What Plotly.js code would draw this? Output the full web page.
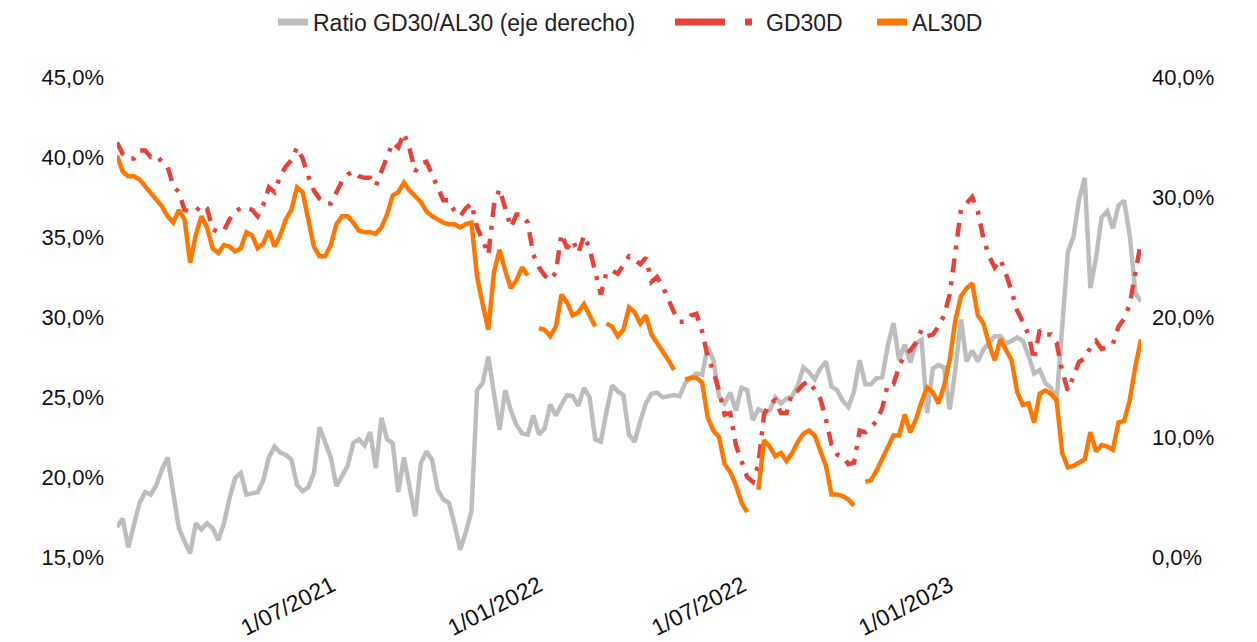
<!DOCTYPE html>
<html>
<head>
<meta charset="utf-8">
<script src="https://cdn.plot.ly/plotly-3.0.1.min.js"></script>
<style>
  html, body { margin: 0; padding: 0; background: #ffffff; }
  #chart { width: 1257px; height: 642px; }
</style>
</head>
<body>
<div id="chart"></div>
<script>
// Sampling grid: one reading every 5 calendar days from the first date shown
const startDate = '2020-12-22';
const stepDays = 5;

// AL30D yield (%), left axis
const al30d = [
  40.1, 39.1, 38.8, 38.8, 38.6, 38.2, 37.8, 37.4, 36.9, 36.3,
  35.9, 36.7, 36.1, 33.4, 35.1, 36.3, 35.6, 34.3, 34.0, 34.5,
  34.4, 34.1, 34.3, 35.3, 35.1, 34.3, 34.6, 35.4, 34.4, 35.1,
  36.1, 36.7, 38.1, 37.8, 36.2, 34.4, 33.8, 33.8, 34.5, 35.8,
  36.3, 36.3, 35.9, 35.4, 35.3, 35.3, 35.2, 35.6, 36.4, 37.6,
  37.8, 38.4, 37.9, 37.5, 37.2, 36.6, 36.3, 36.1, 35.9, 35.8,
  35.8, 35.6, 35.8, 35.9, 32.5, 30.8, 29.2, 32.8, 34.2, 32.9,
  31.8, 32.3, 33.1, 32.6, null, 29.3, 29.2, 28.8, 29.4, 31.4,
  30.9, 30.1, 30.3, 30.8, 30.1, 29.4, null, 29.6, 29.4, 28.8,
  29.2, 30.6, 30.3, 29.6, 30.1, 28.9, 28.4, 27.8, 27.3, 26.7,
  null, 26.1, 26.2, 26.2, 25.9, 23.7, 22.9, 22.5, 20.8, 20.3,
  19.5, 18.4, 17.8, null, 19.2, 22.3, 21.9, 21.3, 21.5, 21.0,
  21.5, 22.2, 22.7, 22.9, 22.6, 21.6, 20.7, 18.9, 18.9, 18.8,
  18.6, 18.2, null, 19.7, 19.8, 20.4, 21.1, 21.9, 22.6, 22.6,
  23.9, 22.8, 23.6, 24.7, 25.6, 25.3, 24.6, 25.7, 27.3, 29.8,
  31.3, 31.8, 32.1, 30.1, 29.6, 28.3, 27.3, 28.6, 27.9, 27.3,
  25.3, 24.5, 24.6, 23.4, 25.2, 25.4, 25.2, 24.8, 21.5, 20.6,
  20.7, 20.9, 21.1, 22.8, 21.6, 22.0, 21.9, 21.7, 23.4, 23.5,
  24.8, 26.9, 28.6
];

// GD30D yield (%), left axis
const gd30d = [
  40.9, 40.2, 39.9, 39.9, 40.4, 40.4, 40.0, 40.1, 39.7, 39.4,
  38.2, 37.8, 36.7, 36.6, 36.6, 37.0, 36.8, 35.5, 35.3, 35.4,
  36.1, 36.6, 36.8, 36.8, 36.7, 36.3, 37.0, 38.1, 37.8, 38.8,
  39.4, 39.8, 40.6, 39.9, 38.8, 37.9, 37.4, 37.1, 37.1, 37.8,
  38.5, 38.9, 39.1, 38.8, 38.7, 38.7, 38.2, 39.1, 40.0, 40.9,
  40.6, 41.5, 40.5, 39.1, 39.6, 39.7, 38.9, 38.1, 37.3, 37.3,
  36.6, 36.3, 36.8, 37.1, 35.6, 34.8, 33.9, 37.0, 38.0, 36.8,
  35.6, 36.4, 36.4, 35.9, 33.9, 33.1, 32.6, 32.3, 32.8, 35.2,
  34.3, 34.8, 34.0, 35.1, 34.3, 32.8, 31.4, 32.8, 32.9, 32.7,
  33.2, 33.8, 33.6, 33.3, 33.7, 32.2, 32.5, 31.9, 31.1, 30.3,
  29.7, 29.7, 30.1, 30.2, 29.1, 27.5, 26.6, 25.4, 23.9, 24.0,
  22.0, 20.9, 20.0, 19.7, 20.8, 23.9, 24.6, 24.8, 24.0, 24.0,
  25.3, 25.4, 25.8, 26.0, 25.4, 24.9, 23.6, 22.0, 21.4, 21.3,
  20.8, 20.9, 22.9, 22.8, 23.1, 23.5, 24.3, 25.8, 25.8, 26.9,
  27.7, 27.9, 28.4, 29.2, 28.8, 28.9, 29.4, 30.1, 31.4, 34.2,
  36.7, 37.1, 37.5, 36.6, 34.9, 33.8, 33.1, 33.6, 32.7, 31.6,
  30.4, 29.7, 28.9, 27.3, 29.2, 28.9, 28.9, 28.4, 26.6, 25.4,
  26.3, 27.2, 27.4, 28.1, 28.5, 28.0, 28.1, 28.3, 29.4, 29.9,
  30.8, 32.9, 34.7
];

// Ratio GD30/AL30 (%), right axis
const ratio = [
  2.5, 3.2, 0.8, 2.8, 4.5, 5.4, 5.2, 6.0, 7.3, 8.3,
  5.4, 2.4, 1.3, 0.3, 2.8, 2.3, 2.8, 2.4, 1.4, 2.8,
  4.9, 6.6, 7.0, 5.2, 5.3, 5.4, 6.4, 8.3, 9.2, 8.7,
  8.5, 8.1, 6.0, 5.5, 5.8, 7.0, 10.8, 9.5, 8.3, 5.9,
  6.7, 7.6, 9.5, 9.8, 9.3, 10.4, 7.4, 11.6, 9.8, 9.5,
  5.4, 8.3, 5.8, 3.4, 7.8, 8.8, 8.1, 5.6, 4.8, 4.5,
  2.7, 0.6, 2.1, 3.8, 13.9, 14.5, 16.7, 13.5, 10.6, 13.9,
  12.2, 11.0, 10.3, 10.2, 11.8, 10.2, 10.7, 12.7, 11.8, 12.7,
  13.5, 13.4, 12.6, 14.1, 13.3, 9.8, 9.6, 12.1, 14.3, 13.8,
  13.5, 10.2, 9.6, 11.3, 12.8, 13.6, 13.7, 13.3, 13.4, 13.5,
  13.4, 14.5, 14.9, 15.3, 15.2, 17.5, 16.4, 13.4, 12.8, 13.7,
  12.2, 14.1, 13.9, 11.4, 12.3, 12.1, 12.2, 13.3, 12.8, 13.2,
  13.4, 14.3, 15.8, 15.4, 14.8, 15.7, 16.3, 14.2, 13.9, 13.0,
  12.5, 13.8, 16.4, 14.4, 14.4, 14.9, 15.0, 17.6, 19.5, 16.4,
  17.7, 16.2, 17.8, 18.1, 12.0, 15.7, 16.0, 15.8, 12.3, 15.6,
  19.8, 16.3, 17.2, 16.3, 17.3, 17.8, 18.4, 18.4, 17.8, 18.0,
  18.3, 18.0, 16.8, 15.3, 15.6, 14.5, 14.1, 13.0, 18.9, 25.4,
  26.7, 29.8, 31.6, 22.4, 24.9, 28.3, 28.8, 27.4, 29.3, 29.7,
  26.8, 22.0, 21.3
];

// Axis ticks
const xTickVals = ['2021-07-01', '2022-01-01', '2022-07-01', '2023-01-01'];
const xTickText = ['1/07/2021', '1/01/2022', '1/07/2022', '1/01/2023'];
const leftTicks = [15, 20, 25, 30, 35, 40, 45];
const rightTicks = [0, 10, 20, 30, 40];

const seriesNames = ['Ratio GD30/AL30 (eje derecho)', 'GD30D', 'AL30D'];
const seriesColors = ['#bdbdbd', '#e5433a', '#ff7700'];

function isoAddDays(iso, n) {
  const d = new Date(iso + 'T00:00:00Z');
  d.setUTCDate(d.getUTCDate() + n);
  return d.toISOString().slice(0, 10);
}
const pct = v => v.toFixed(1).replace('.', ',') + '%';
const dates = ratio.map((_, k) => isoAddDays(startDate, k * stepDays));

const FONT = '"Liberation Sans", Arial, "DejaVu Sans", sans-serif';
const TXT = '#111111';

const traces = [
  // data traces
  {
    x: dates, y: ratio, name: seriesNames[0], type: 'scatter', mode: 'lines',
    yaxis: 'y', line: { color: seriesColors[0], width: 4.5 },
    showlegend: false, hoverinfo: 'skip'
  },
  {
    x: dates, y: gd30d, name: seriesNames[1], type: 'scatter', mode: 'lines',
    yaxis: 'y2', line: { color: seriesColors[1], width: 4.5, dash: '14px,9px,4px,9px' },
    connectgaps: false, showlegend: false, hoverinfo: 'skip'
  },
  {
    x: dates, y: al30d, name: seriesNames[2], type: 'scatter', mode: 'lines',
    yaxis: 'y2', line: { color: seriesColors[2], width: 4.5 },
    connectgaps: false, showlegend: false, hoverinfo: 'skip'
  },
  // legend entries (one legend per series, to place each key like the original)
  {
    x: [dates[0]], y: [null], name: seriesNames[0], type: 'scatter', mode: 'lines',
    yaxis: 'y', legend: 'legend', line: { color: seriesColors[0], width: 7 },
    showlegend: true, hoverinfo: 'skip'
  },
  {
    x: [dates[0]], y: [null], name: seriesNames[1], type: 'scatter', mode: 'lines',
    yaxis: 'y2', legend: 'legend2',
    line: { color: seriesColors[1], width: 7, dash: '50px,20px,7px,40px' },
    showlegend: true, hoverinfo: 'skip'
  },
  {
    x: [dates[0]], y: [null], name: seriesNames[2], type: 'scatter', mode: 'lines',
    yaxis: 'y2', legend: 'legend3', line: { color: seriesColors[2], width: 7 },
    showlegend: true, hoverinfo: 'skip'
  }
];

const legendBase = {
  orientation: 'h', xref: 'container', yref: 'container',
  xanchor: 'left', yanchor: 'middle', y: 1 - 22 / 642,
  font: { family: FONT, size: 23, color: '#222222' },
  bgcolor: 'rgba(0,0,0,0)', borderwidth: 0
};

const layout = {
  width: 1257, height: 642,
  margin: { l: 117, r: 116, t: 77, b: 85, autoexpand: false },
  paper_bgcolor: '#ffffff', plot_bgcolor: '#ffffff',
  separators: ',.',
  font: { family: FONT, size: 22, color: TXT },
  showlegend: true,
  legend:  Object.assign({}, legendBase, { x: 273 / 1257, itemwidth: 30 }),
  legend2: Object.assign({}, legendBase, { x: 670 / 1257, itemwidth: 86 }),
  legend3: Object.assign({}, legendBase, { x: 872 / 1257, itemwidth: 30 }),
  xaxis: {
    type: 'date', range: [dates[0], dates[dates.length - 1]],
    tickvals: xTickVals, ticktext: xTickText, tickangle: -27,
    showgrid: false, zeroline: false, showline: false, ticks: '',
    tickfont: { family: FONT, size: 23, color: TXT },
    ticklabelstandoff: 10, automargin: false
  },
  yaxis: {
    side: 'right', range: [0, 40], tickvals: rightTicks, ticktext: rightTicks.map(pct),
    showgrid: false, zeroline: false, showline: false, ticks: '',
    tickfont: { family: FONT, size: 22, color: TXT },
    ticklabelstandoff: 10, automargin: false
  },
  yaxis2: {
    overlaying: 'y', side: 'left', range: [15, 45], tickvals: leftTicks, ticktext: leftTicks.map(pct),
    showgrid: false, zeroline: false, showline: false, ticks: '',
    tickfont: { family: FONT, size: 22, color: TXT },
    ticklabelstandoff: 12, automargin: false
  }
};

Plotly.newPlot('chart', traces, layout, { staticPlot: true, displayModeBar: false });
</script>
</body>
</html>
